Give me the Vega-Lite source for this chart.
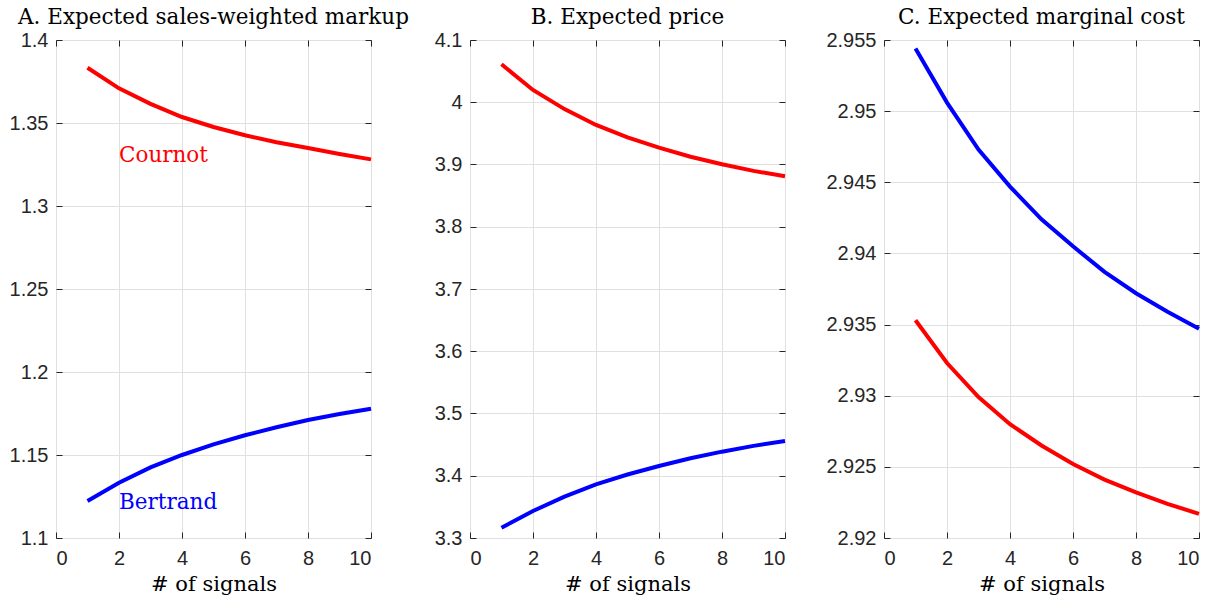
{
  "$schema": "https://vega.github.io/schema/vega-lite/v6.json",
  "background": "white",
  "padding": {"left": 8, "top": 6, "right": 4, "bottom": 4},
  "bounds": "flush",
  "spacing": 99,
  "config": {
    "view": {"stroke": "#262626", "strokeWidth": 1},
    "axis": {
      "labelFont": "Liberation Sans",
      "labelFontSize": 20,
      "labelColor": "#262626",
      "domain": false,
      "tickColor": "#262626",
      "tickSize": -6,
      "labelPadding": 14,
      "gridColor": "#e0e0e0",
      "gridWidth": 1,
      "titleFont": "DejaVu Serif",
      "titleFontSize": 21,
      "titleFontWeight": "normal",
      "titleColor": "#000000"
    },
    "axisBottom": {"labelPadding": 16},
    "title": {"font": "DejaVu Serif", "fontSize": 21.5, "fontWeight": "normal", "color": "#000000", "offset": 2, "anchor": "middle"}
  },
  "datasets": {
    "markup": [
      {"n": 1, "model": "Cournot", "value": 1.3833},
      {"n": 2, "model": "Cournot", "value": 1.3709},
      {"n": 3, "model": "Cournot", "value": 1.3615},
      {"n": 4, "model": "Cournot", "value": 1.3536},
      {"n": 5, "model": "Cournot", "value": 1.3476},
      {"n": 6, "model": "Cournot", "value": 1.3426},
      {"n": 7, "model": "Cournot", "value": 1.3384},
      {"n": 8, "model": "Cournot", "value": 1.3349},
      {"n": 9, "model": "Cournot", "value": 1.3313},
      {"n": 10, "model": "Cournot", "value": 1.3281},
      {"n": 1, "model": "Bertrand", "value": 1.1223},
      {"n": 2, "model": "Bertrand", "value": 1.1333},
      {"n": 3, "model": "Bertrand", "value": 1.1425},
      {"n": 4, "model": "Bertrand", "value": 1.1500},
      {"n": 5, "model": "Bertrand", "value": 1.1564},
      {"n": 6, "model": "Bertrand", "value": 1.1619},
      {"n": 7, "model": "Bertrand", "value": 1.1667},
      {"n": 8, "model": "Bertrand", "value": 1.1711},
      {"n": 9, "model": "Bertrand", "value": 1.1747},
      {"n": 10, "model": "Bertrand", "value": 1.1779}
    ],
    "price": [
      {"n": 1, "model": "Cournot", "value": 4.061},
      {"n": 2, "model": "Cournot", "value": 4.0197},
      {"n": 3, "model": "Cournot", "value": 3.989},
      {"n": 4, "model": "Cournot", "value": 3.9635},
      {"n": 5, "model": "Cournot", "value": 3.9435},
      {"n": 6, "model": "Cournot", "value": 3.927},
      {"n": 7, "model": "Cournot", "value": 3.9125},
      {"n": 8, "model": "Cournot", "value": 3.9003},
      {"n": 9, "model": "Cournot", "value": 3.8898},
      {"n": 10, "model": "Cournot", "value": 3.881},
      {"n": 1, "model": "Bertrand", "value": 3.3166},
      {"n": 2, "model": "Bertrand", "value": 3.3434},
      {"n": 3, "model": "Bertrand", "value": 3.3665},
      {"n": 4, "model": "Bertrand", "value": 3.3862},
      {"n": 5, "model": "Bertrand", "value": 3.402},
      {"n": 6, "model": "Bertrand", "value": 3.4157},
      {"n": 7, "model": "Bertrand", "value": 3.428},
      {"n": 8, "model": "Bertrand", "value": 3.4387},
      {"n": 9, "model": "Bertrand", "value": 3.448},
      {"n": 10, "model": "Bertrand", "value": 3.4558}
    ],
    "cost": [
      {"n": 1, "model": "Cournot", "value": 2.9353},
      {"n": 2, "model": "Cournot", "value": 2.9323},
      {"n": 3, "model": "Cournot", "value": 2.9299},
      {"n": 4, "model": "Cournot", "value": 2.928},
      {"n": 5, "model": "Cournot", "value": 2.9265},
      {"n": 6, "model": "Cournot", "value": 2.9252},
      {"n": 7, "model": "Cournot", "value": 2.9241},
      {"n": 8, "model": "Cournot", "value": 2.9232},
      {"n": 9, "model": "Cournot", "value": 2.9224},
      {"n": 10, "model": "Cournot", "value": 2.9217},
      {"n": 1, "model": "Bertrand", "value": 2.9544},
      {"n": 2, "model": "Bertrand", "value": 2.9506},
      {"n": 3, "model": "Bertrand", "value": 2.9473},
      {"n": 4, "model": "Bertrand", "value": 2.9447},
      {"n": 5, "model": "Bertrand", "value": 2.9424},
      {"n": 6, "model": "Bertrand", "value": 2.9405},
      {"n": 7, "model": "Bertrand", "value": 2.9387},
      {"n": 8, "model": "Bertrand", "value": 2.9372},
      {"n": 9, "model": "Bertrand", "value": 2.9359},
      {"n": 10, "model": "Bertrand", "value": 2.9347}
    ],
    "labels": [
      {"n": 2, "model": "Cournot", "value": 1.330},
      {"n": 2, "model": "Bertrand", "value": 1.121}
    ]
  },
  "hconcat": [
    {
      "width": 315,
      "height": 498,
      "title": "A. Expected sales-weighted markup",
      "layer": [
        {
          "data": {"name": "markup"},
          "mark": {"type": "line", "strokeWidth": 4},
          "encoding": {
            "x": {"field": "n", "type": "quantitative", "scale": {"domain": [0, 10], "nice": false}, "axis": {"orient": "bottom", "values": [0, 2, 4, 6, 8, 10], "title": "# of signals", "titlePadding": 5}},
            "y": {"field": "value", "type": "quantitative", "scale": {"domain": [1.1, 1.4], "nice": false, "zero": false}, "axis": {"orient": "left", "values": [1.1, 1.15, 1.2, 1.25, 1.3, 1.35, 1.4], "format": "~g", "title": null}},
            "color": {"field": "model", "type": "nominal", "scale": {"domain": ["Cournot", "Bertrand"], "range": ["#ff0000", "#0000ff"]}, "legend": null}
          }
        },
        {
          "data": {"name": "labels"},
          "mark": {"type": "text", "align": "left", "baseline": "middle", "font": "DejaVu Serif", "fontSize": 21.5},
          "encoding": {
            "x": {"field": "n", "type": "quantitative", "axis": {"orient": "top", "values": [0, 2, 4, 6, 8, 10], "labels": false, "grid": false, "title": null}},
            "y": {"field": "value", "type": "quantitative", "axis": {"orient": "right", "values": [1.1, 1.15, 1.2, 1.25, 1.3, 1.35, 1.4], "labels": false, "grid": false, "title": null}},
            "text": {"field": "model"},
            "color": {"field": "model", "type": "nominal", "legend": null}
          }
        }
      ]
    },
    {
      "width": 315,
      "height": 498,
      "title": "B. Expected price",
      "layer": [
        {
          "data": {"name": "price"},
          "mark": {"type": "line", "strokeWidth": 4},
          "encoding": {
            "x": {"field": "n", "type": "quantitative", "scale": {"domain": [0, 10], "nice": false}, "axis": {"orient": "bottom", "values": [0, 2, 4, 6, 8, 10], "title": "# of signals", "titlePadding": 5}},
            "y": {"field": "value", "type": "quantitative", "scale": {"domain": [3.3, 4.1], "nice": false, "zero": false}, "axis": {"orient": "left", "values": [3.3, 3.4, 3.5, 3.6, 3.7, 3.8, 3.9, 4.0, 4.1], "format": "~g", "title": null}},
            "color": {"field": "model", "type": "nominal", "scale": {"domain": ["Cournot", "Bertrand"], "range": ["#ff0000", "#0000ff"]}, "legend": null}
          }
        },
        {
          "data": {"name": "price"},
          "mark": {"type": "point", "opacity": 0},
          "encoding": {
            "x": {"field": "n", "type": "quantitative", "axis": {"orient": "top", "values": [0, 2, 4, 6, 8, 10], "labels": false, "grid": false, "title": null}},
            "y": {"field": "value", "type": "quantitative", "axis": {"orient": "right", "values": [3.3, 3.4, 3.5, 3.6, 3.7, 3.8, 3.9, 4.0, 4.1], "labels": false, "grid": false, "title": null}}
          }
        }
      ]
    },
    {
      "width": 315,
      "height": 498,
      "title": "C. Expected marginal cost",
      "layer": [
        {
          "data": {"name": "cost"},
          "mark": {"type": "line", "strokeWidth": 4},
          "encoding": {
            "x": {"field": "n", "type": "quantitative", "scale": {"domain": [0, 10], "nice": false}, "axis": {"orient": "bottom", "values": [0, 2, 4, 6, 8, 10], "title": "# of signals", "titlePadding": 5}},
            "y": {"field": "value", "type": "quantitative", "scale": {"domain": [2.92, 2.955], "nice": false, "zero": false}, "axis": {"orient": "left", "values": [2.92, 2.925, 2.93, 2.935, 2.94, 2.945, 2.95, 2.955], "format": "~g", "title": null}},
            "color": {"field": "model", "type": "nominal", "scale": {"domain": ["Cournot", "Bertrand"], "range": ["#ff0000", "#0000ff"]}, "legend": null}
          }
        },
        {
          "data": {"name": "cost"},
          "mark": {"type": "point", "opacity": 0},
          "encoding": {
            "x": {"field": "n", "type": "quantitative", "axis": {"orient": "top", "values": [0, 2, 4, 6, 8, 10], "labels": false, "grid": false, "title": null}},
            "y": {"field": "value", "type": "quantitative", "axis": {"orient": "right", "values": [2.92, 2.925, 2.93, 2.935, 2.94, 2.945, 2.95, 2.955], "labels": false, "grid": false, "title": null}}
          }
        }
      ]
    }
  ]
}
